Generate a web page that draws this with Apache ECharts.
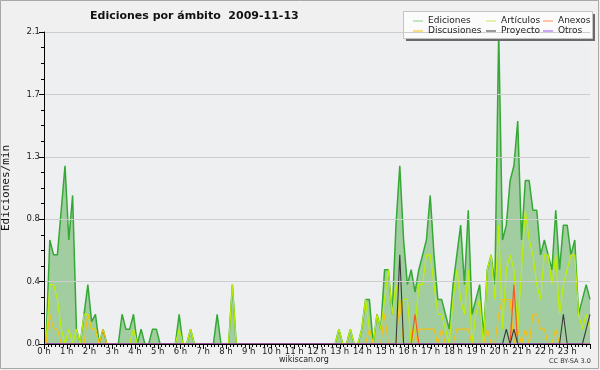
<!DOCTYPE html>
<html>
<head>
<meta charset="utf-8">
<script src="https://cdn.jsdelivr.net/npm/echarts@6/dist/echarts.min.js"></script>
<style>html,body{margin:0;padding:0;background:#f0f0f0;}#c{width:600px;height:370px;}</style>
</head>
<body>
<div id="c"></div>
<script>
// 10-minute slots, 144 per day (values in edits/min)
const hourLabels = ['0 h','1 h','2 h','3 h','4 h','5 h','6 h','7 h','8 h','9 h','10 h','11 h',
  '12 h','13 h','14 h','15 h','16 h','17 h','18 h','19 h','20 h','21 h','22 h','23 h'];

const ediciones = [
  0,0.7,0.6,0.6,0.9,1.2,0.7,1.0,0.1,0,0.2,0.4,
  0.15,0.2,0,0.1,0,0,0,0,0.2,0.1,0.1,0.2,
  0,0.1,0,0,0.1,0.1,0,0,0,0,0,0.2,
  0,0,0.1,0,0,0,0,0,0,0.2,0,0,
  0,0.4,0,0,0,0,0,0,0,0,0,0,
  0,0,0,0,0,0,0,0,0,0,0,0,
  0,0,0,0,0,0.1,0,0,0.1,0,0,0.1,
  0.3,0.3,0,0.2,0.1,0.5,0.5,0.2,0.8,1.2,0.7,0.4,
  0.5,0.35,0.5,0.6,0.7,1.0,0.6,0.3,0.3,0.2,0.1,0.4,
  0.6,0.8,0.4,0.9,0.2,0.3,0.4,0.05,0.5,0.6,0.4,2.1,
  0.7,0.8,1.1,1.2,1.5,0.7,1.1,1.1,0.9,0.9,0.6,0.7,
  0.6,0.5,0.9,0.5,0.8,0.8,0.6,0.7,0.2,0.3,0.4,0.3
];
const articulos = [
  0,0.4,0.4,0.3,0.1,0,0.1,0,0.1,0,0.2,0.2,
  0.1,0.1,0,0,0,0,0,0,0,0,0,0.1,
  0,0,0,0,0,0,0,0,0,0,0,0.1,
  0,0,0.1,0,0,0,0,0,0,0,0,0,
  0,0.4,0,0,0,0,0,0,0,0,0,0,
  0,0,0,0,0,0,0,0,0,0,0,0,
  0,0,0,0,0,0.1,0,0,0.1,0,0,0.1,
  0.3,0.1,0,0.2,0.1,0.3,0.5,0.2,0.4,0.2,0.3,0.3,
  0,0.1,0.4,0.4,0.6,0.6,0.4,0.2,0.2,0.1,0,0.3,
  0.5,0.3,0.2,0.5,0,0.2,0.3,0,0.5,0.6,0.3,0.8,
  0.1,0.5,0.6,0.5,0.1,0.5,0.9,0.7,0.6,0.4,0.3,0.6,
  0.6,0.4,0.6,0.2,0.4,0.5,0.6,0.6,0.2,0.1,0.2,0.1
];
const discusiones = [
  0,0.2,0.1,0.1,0,0,0,0,0,0,0,0.2,
  0.1,0.1,0,0.1,0,0,0,0,0,0,0,0,
  0,0,0,0,0,0,0,0,0,0,0,0,
  0,0,0,0,0,0,0,0,0,0,0,0,
  0,0,0,0,0,0,0,0,0,0,0,0,
  0,0,0,0,0,0,0,0,0,0,0,0,
  0,0,0,0,0,0,0,0,0,0,0,0,
  0,0.1,0,0,0,0.2,0,0,0,0.3,0,0,
  0,0,0.1,0.1,0.1,0.1,0.1,0,0.1,0,0,0,
  0.1,0.1,0.1,0.1,0,0,0,0,0.1,0,0,0.2,
  0.3,0.3,0.3,0,0.1,0,0.1,0,0.2,0.2,0.1,0.1,
  0,0,0.1,0,0,0,0,0,0,0,0,0
];
const anexos = [
  0,0,0,0,0,0,0,0,0,0,0,0,
  0,0,0,0,0,0,0,0,0,0,0,0,
  0,0,0,0,0,0,0,0,0,0,0,0,
  0,0,0,0,0,0,0,0,0,0,0,0,
  0,0,0,0,0,0,0,0,0,0,0,0,
  0,0,0,0,0,0,0,0,0,0,0,0,
  0,0,0,0,0,0,0,0,0,0,0,0,
  0,0,0,0,0,0,0,0,0,0,0,0,
  0,0.2,0,0,0,0,0,0,0,0,0,0,
  0,0,0,0,0,0,0,0,0,0,0,0,
  0,0,0,0.4,0,0,0,0,0,0,0,0,
  0,0,0,0,0,0,0,0,0,0,0,0
];
const proyecto = [
  0,0,0,0,0,0,0,0,0,0,0,0,
  0,0,0,0,0,0,0,0,0,0,0,0,
  0,0,0,0,0,0,0,0,0,0,0,0,
  0,0,0,0,0,0,0,0,0,0,0,0,
  0,0,0,0,0,0,0,0,0,0,0,0,
  0,0,0,0,0,0,0,0,0,0,0,0,
  0,0,0,0,0,0,0,0,0,0,0,0,
  0,0,0,0,0,0,0,0,0,0.6,0,0,
  0,0,0,0,0,0,0,0,0,0,0,0,
  0,0,0,0,0,0,0,0,0,0,0,0,
  0,0.1,0,0.1,0,0,0,0,0,0,0,0,
  0,0,0,0,0.2,0,0,0,0,0,0.1,0.2
];
const otros = [
  0,0,0,0,0,0,0,0,0,0,0,0,
  0,0,0,0,0,0,0,0,0,0,0,0,
  0,0,0,0,0,0,0,0,0,0,0,0,
  0,0,0,0,0,0,0,0,0,0,0,0,
  0,0,0,0,0,0,0,0,0,0,0,0,
  0,0,0,0,0,0,0,0,0,0,0,0,
  0,0,0,0,0,0,0,0,0,0,0,0,
  0,0,0,0,0,0,0,0,0,0,0,0,
  0,0,0,0,0,0,0,0,0,0,0,0,
  0,0,0,0,0,0,0,0,0,0,0,0,
  0,0,0,0,0,0,0,0,0,0,0,0,
  0,0,0,0,0,0,0,0,0,0,0,0
];
const slots = [];
for (let h = 0; h < 24; h++) for (let m = 0; m < 60; m += 10) slots.push(h + ':' + (m < 10 ? '0' : '') + m);

const FONT = 'DejaVu Sans';
const chart = echarts.init(document.getElementById('c'), null, {renderer: 'canvas'});

function lineSeries(name, data, color, width, z) {
  return {name, type: 'line', data, symbol: 'none', xAxisIndex: 1, yAxisIndex: 1,
    lineStyle: {color, width}, itemStyle: {color}, z, animation: false};
}
const legendText = {fontFamily: FONT, fontSize: 9, color: '#222', lineHeight: 10};

chart.setOption({
  backgroundColor: '#f0f0f0',
  animation: false,
  title: {text: 'Ediciones por ámbito  2009-11-13', left: 85, top: 6,
    textStyle: {fontFamily: FONT, fontSize: 11, fontWeight: 'bold', color: '#111'}},
  grid: [
    {left: 44, top: 32, width: 546, height: 312, show: true, backgroundColor: '#eeeff1', borderWidth: 0,
      containLabel: false, outerBoundsMode: 'none'},
    {left: 46, top: 32, width: 544, height: 312, show: false,
      containLabel: false, outerBoundsMode: 'none'}
  ],
  legend: [
    {left: 408, top: 11, orient: 'vertical', itemGap: 0, itemWidth: 10, itemHeight: 1, icon: 'rect', z: 6,
      textStyle: legendText,
      data: [{name: 'Ediciones', itemStyle: {color: '#88d488'}}, {name: 'Discusiones'}]},
    {left: 481, top: 11, orient: 'vertical', itemGap: 0, itemWidth: 10, itemHeight: 1, icon: 'rect', z: 6,
      textStyle: legendText,
      data: [{name: 'Artículos', itemStyle: {color: '#c8ec5a'}}, {name: 'Proyecto'}]},
    {left: 538, top: 11, orient: 'vertical', itemGap: 0, itemWidth: 10, itemHeight: 1, icon: 'rect', z: 6,
      textStyle: legendText,
      data: [{name: 'Anexos', itemStyle: {color: '#ff8a55'}}, {name: 'Otros', itemStyle: {color: '#9a50f0'}}]}
  ],
  xAxis: [
    {type: 'value', min: 0, max: 24, interval: 1, position: 'bottom', gridIndex: 0, z: 5,
      axisLine: {show: true, lineStyle: {color: '#000', width: 1}},
      axisTick: {show: true, length: 5, lineStyle: {color: '#000'}},
      minorTick: {show: true, splitNumber: 6, length: 3, lineStyle: {color: '#000'}},
      splitLine: {show: false},
      axisLabel: {fontFamily: FONT, fontSize: 8.5, color: '#222', margin: 3, hideOverlap: false,
        formatter: v => hourLabels[v] || ''}},
    {type: 'category', data: slots, boundaryGap: false, show: false, gridIndex: 1}
  ],
  yAxis: [
    {type: 'value', min: 0, max: 2.1, interval: 0.42, z: 5, gridIndex: 0,
      name: 'Ediciones/min', nameLocation: 'middle', nameGap: 32,
      nameTextStyle: {fontFamily: 'DejaVu Sans Mono', fontSize: 11, color: '#111'},
      axisLine: {show: true, lineStyle: {color: '#000', width: 1}},
      axisTick: {show: true, length: 5, lineStyle: {color: '#000'}},
      minorTick: {show: true, splitNumber: 4, length: 3, lineStyle: {color: '#000'}},
      splitLine: {show: true, lineStyle: {color: '#cdcdcd', width: 1}},
      axisLabel: {fontFamily: FONT, fontSize: 8.5, color: '#222', margin: 4,
        formatter: v => v.toFixed(1)}},
    {type: 'value', min: 0, max: 2.1, gridIndex: 1, show: false, splitLine: {show: false}}
  ],
  series: [
    Object.assign(lineSeries('Ediciones', ediciones, '#35a935', 1.5, 2),
      {areaStyle: {color: '#a1cda1', opacity: 1}}),
    lineSeries('Artículos', articulos, '#bdf000', 1.2, 3),
    lineSeries('Discusiones', discusiones, '#f8c010', 1.1, 3),
    lineSeries('Anexos', anexos, '#ff5520', 1.2, 3),
    lineSeries('Proyecto', proyecto, '#3a3a3a', 1.1, 3),
    lineSeries('Otros', otros, '#9a40ff', 1, 3)
  ],
  graphic: [
    {type: 'rect', z: 3, silent: true, shape: {x: 0.5, y: 0.5, width: 598, height: 368},
      style: {fill: 'none', stroke: '#a8a8a8', lineWidth: 1}},
    {type: 'rect', z: 3, silent: true, shape: {x: 406, y: 14, width: 189, height: 27},
      style: {fill: '#6a6a6a'}},
    {type: 'rect', z: 4, silent: true, shape: {x: 403.5, y: 11.5, width: 189, height: 27},
      style: {fill: '#fbfbfb', stroke: '#c4c4c4', lineWidth: 1}},
    {type: 'text', z: 4, left: 279, top: 356,
      style: {text: 'wikiscan.org', font: '8px "DejaVu Sans"', fill: '#222'}},
    {type: 'text', z: 4, left: 549, top: 358,
      style: {text: 'CC BY-SA 3.0', font: '6.5px "DejaVu Sans"', fill: '#333'}}
  ]
});
</script>
</body>
</html>
